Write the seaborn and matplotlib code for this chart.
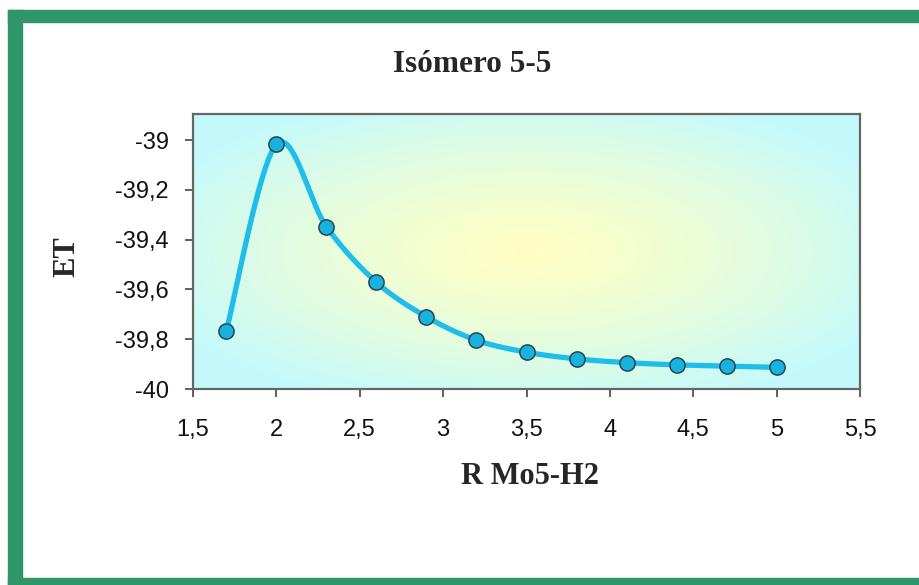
import numpy as np
import pandas as pd
import matplotlib
matplotlib.use('Agg')
import matplotlib.pyplot as plt
from matplotlib.patches import Rectangle
from matplotlib.ticker import FuncFormatter
import seaborn as sns

# values
r_mo5_h2 = [1.7, 2.0, 2.3, 2.6, 2.9, 3.2, 3.5, 3.8, 4.1, 4.4, 4.7, 5.0]
et = [-39.766, -39.017, -39.348, -39.571, -39.710, -39.804, -39.852,
      -39.879, -39.894, -39.903, -39.908, -39.913]
y_ticks = [-40, -39.8, -39.6, -39.4, -39.2, -39]
x_ticks = [1.5, 2, 2.5, 3, 3.5, 4, 4.5, 5, 5.5]

title = "Isómero 5-5"
x_label = "R Mo5-H2"
y_label = "ET"

sns.set_style("ticks")
plt.rcParams['font.family'] = ['Liberation Sans', 'DejaVu Sans']

W, H = 919, 585
fig = plt.figure(figsize=(W / 100, H / 100), dpi=100)
fig.patch.set_facecolor("white")

# green frame
green = "#2E9669"
fig.add_artist(Rectangle((8 / W, 0), 14 / W, 1 - 10 / H, transform=fig.transFigure,
                         color=green, zorder=5))
fig.add_artist(Rectangle((8 / W, 1 - 22 / H), 1, 12 / H, transform=fig.transFigure,
                         color=green, zorder=5))
fig.add_artist(Rectangle((8 / W, 0), 1, 7 / H, transform=fig.transFigure,
                         color=green, zorder=5))

left, right, top, bottom = 193, 860, 114, 389
ax = fig.add_axes([left / W, 1 - bottom / H, (right - left) / W, (bottom - top) / H])

xmin, xmax = 1.5, 5.5
ymin, ymax = -40, -38.895
ax.set_xlim(xmin, xmax)
ax.set_ylim(ymin, ymax)

# radial gradient background (yellow centre, cyan edges)
gx, gy = np.meshgrid(np.linspace(-1, 1, 400), np.linspace(-1, 1, 200))
rr = np.clip(np.sqrt(gx ** 2 + gy ** 2) / 1.2, 0, 1) ** 1.3
centre = np.array([1.0, 1.0, 0.77])
edge = np.array([0.77, 0.98, 0.99])
img = centre[None, None, :] * (1 - rr[..., None]) + edge[None, None, :] * rr[..., None]
ax.imshow(img, extent=(xmin, xmax, ymin, ymax), aspect='auto', zorder=0,
          interpolation='bilinear')

# smoothed curve (Catmull-Rom style, like spreadsheet smoothing) in pixel space
px = (np.array(r_mo5_h2) - xmin) / (xmax - xmin) * (right - left)
py = (np.array(et) - ymin) / (ymax - ymin) * (bottom - top)
pts = np.column_stack([px, py])
ext = np.vstack([pts[0], pts, pts[-1]])
curve = []
t = np.linspace(0, 1, 40)[:, None]
for i in range(1, len(ext) - 2):
    p0, p1, p2, p3 = ext[i - 1], ext[i], ext[i + 1], ext[i + 2]
    c1 = p1 + (p2 - p0) / 6
    c2 = p2 - (p3 - p1) / 6
    seg = ((1 - t) ** 3) * p1 + 3 * ((1 - t) ** 2) * t * c1 + 3 * (1 - t) * t ** 2 * c2 + t ** 3 * p2
    curve.append(seg)
curve = np.vstack(curve)
smooth = pd.DataFrame({
    "x": xmin + curve[:, 0] / (right - left) * (xmax - xmin),
    "y": ymin + curve[:, 1] / (bottom - top) * (ymax - ymin),
})
pts_df = pd.DataFrame({"x": r_mo5_h2, "y": et})

sns.lineplot(data=smooth, x="x", y="y", ax=ax, sort=False, estimator=None,
             color="#1FBDEA", linewidth=3.8, zorder=2)
sns.scatterplot(data=pts_df, x="x", y="y", ax=ax, s=120, color="#18B2DE",
                edgecolor="#2B4650", linewidth=1.1, zorder=3)

ax.set_xticks(x_ticks)
ax.set_yticks(y_ticks)
fmt = FuncFormatter(lambda v, p: f"{v:g}".replace('.', ','))
ax.xaxis.set_major_formatter(fmt)
ax.yaxis.set_major_formatter(fmt)
ax.tick_params(axis='both', direction='out', length=5.5, width=1.2, color="#444444",
               labelsize=17, labelcolor="#111111")
ax.tick_params(axis='y', pad=12)
ax.tick_params(axis='x', pad=16)
ax.set_xlabel("")
ax.set_ylabel("")
for s in ax.spines.values():
    s.set_visible(True)
    s.set_color("#666666")
    s.set_linewidth(1.6)

serif = ['Liberation Serif', 'DejaVu Serif']
fig.text(472 / W, 1 - 64 / H, title, ha='center', va='center', fontsize=22.5,
         fontweight='bold', family=serif)
fig.text(530 / W, 1 - 476 / H, x_label, ha='center', va='center', fontsize=22,
         fontweight='bold', family=serif)
fig.text(67 / W, 1 - 257 / H, y_label, ha='center', va='center', fontsize=22,
         fontweight='bold', family=serif, rotation=90)

fig.savefig("out.png", dpi=100)
